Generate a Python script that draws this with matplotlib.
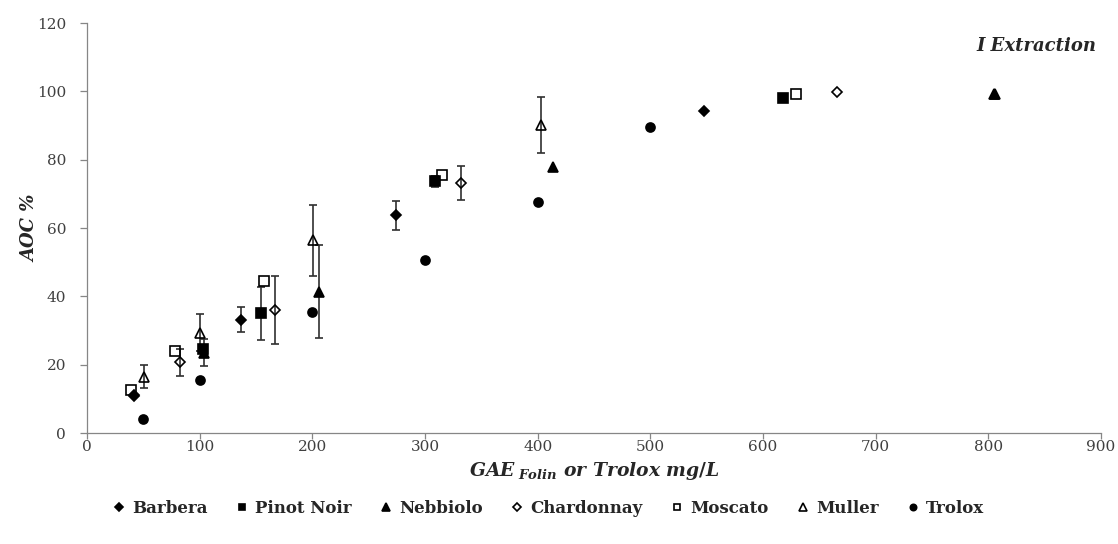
import numpy as np
import matplotlib
matplotlib.use('Agg')
import matplotlib.pyplot as plt

plt.rcParams['font.family'] = 'DejaVu Serif'
plt.rcParams['mathtext.fontset'] = 'custom'
plt.rcParams['mathtext.it'] = 'DejaVu Serif:italic:bold'
plt.rcParams['mathtext.rm'] = 'DejaVu Serif:bold'

# series data: x (mg/L), AOC %, error (0 = no bar)
barbera_x = [42, 137, 274, 548]
barbera_y = [10.8, 33.2, 63.7, 94.3]
barbera_e = [0, 3.7, 4.2, 0]

pinot_x = [102.7, 154.5, 308.5, 617.5]
pinot_y = [24.6, 35.0, 73.7, 98.1]
pinot_e = [0, 7.7, 1.6, 0]

nebbiolo_x = [103.8, 206.3, 413.3, 805.5]
nebbiolo_y = [23.5, 41.4, 77.8, 99.2]
nebbiolo_e = [4.0, 13.5, 0, 0]

chardonnay_x = [41.6, 83.0, 166.8, 332.0, 666.0]
chardonnay_y = [11.0, 20.7, 36.0, 73.2, 99.8]
chardonnay_e = [0, 3.9, 10.0, 5.0, 0]

moscato_x = [39.0, 78.2, 157.2, 314.8, 629.3]
moscato_y = [12.6, 24.1, 44.6, 75.5, 99.2]
moscato_e = [0, 0, 0, 0, 0]

muller_x = [50.5, 100.3, 200.8, 402.7, 805.0]
muller_y = [16.5, 29.4, 56.4, 90.2, 99.2]
muller_e = [3.4, 5.5, 10.3, 8.1, 0]

trolox_x = [50, 100, 200, 300, 400, 500]
trolox_y = [4.0, 15.6, 35.3, 50.5, 67.7, 89.6]
trolox_e = [0, 0, 0, 0, 0, 0]

series = [
    ('Barbera', barbera_x, barbera_y, barbera_e, 'D', 'black', 5.5),
    ('Pinot Noir', pinot_x, pinot_y, pinot_e, 's', 'black', 6.5),
    ('Nebbiolo', nebbiolo_x, nebbiolo_y, nebbiolo_e, '^', 'black', 7.5),
    ('Chardonnay', chardonnay_x, chardonnay_y, chardonnay_e, 'D', 'none', 5.5),
    ('Moscato', moscato_x, moscato_y, moscato_e, 's', 'none', 6.5),
    ('Muller', muller_x, muller_y, muller_e, '^', 'none', 7.5),
    ('Trolox', trolox_x, trolox_y, trolox_e, 'o', 'black', 6.5),
]

fig = plt.figure(figsize=(11.18, 5.44), dpi=100)
ax = fig.add_axes([0.0778, 0.204, 0.907, 0.7537])

grey = '#868686'
for name, xs, ys, es, mk, fc, ms in series:
    xs = np.array(xs); ys = np.array(ys); es = np.array(es)
    m = es > 0
    if m.any():
        ax.errorbar(xs[m], ys[m], yerr=es[m], fmt='none', ecolor='#303030',
                    elinewidth=1.2, capsize=3, capthick=1.2, zorder=2)
    ax.plot(xs, ys, linestyle='none', marker=mk, markersize=ms,
            markerfacecolor=fc, markeredgecolor='black', markeredgewidth=1.2,
            label=name, zorder=3)

ax.set_xlim(0, 900)
ax.set_ylim(0, 120)
ax.set_xticks(np.arange(0, 901, 100))
ax.set_yticks(np.arange(0, 121, 20))
for s in ['top', 'right']:
    ax.spines[s].set_visible(False)
for s in ['left', 'bottom']:
    ax.spines[s].set_color(grey)
    ax.spines[s].set_linewidth(0.9)
ax.tick_params(axis='both', colors=grey, labelcolor='#404040', labelsize=11,
               length=5, width=0.9, direction='out')
ax.tick_params(axis='y', pad=10)
ax.tick_params(axis='x', length=4, pad=1)

ax.set_ylabel('AOC %', fontsize=13, fontweight='bold', fontstyle='italic',
              color='#262626')
ax.yaxis.set_label_coords(-0.047, 0.5)
ax.set_xlabel(r'$GAE_{\ Folin}\ or\ Trolox\ mg/L$', fontsize=13.5,
              color='#262626', labelpad=4)
ax.text(0.995, 0.945, 'I Extraction', transform=ax.transAxes, ha='right',
        va='center', fontsize=13, fontweight='bold', fontstyle='italic',
        color='#262626')

leg = fig.legend(loc='center', bbox_to_anchor=(0.491, 0.066), ncol=7,
                 frameon=False, markerscale=0.7, handlelength=0.6,
                 handletextpad=0.5, columnspacing=1.75,
                 prop={'size': 12, 'weight': 'bold'})
for t in leg.get_texts():
    t.set_color('#262626')

fig.savefig('out.png', dpi=100)
